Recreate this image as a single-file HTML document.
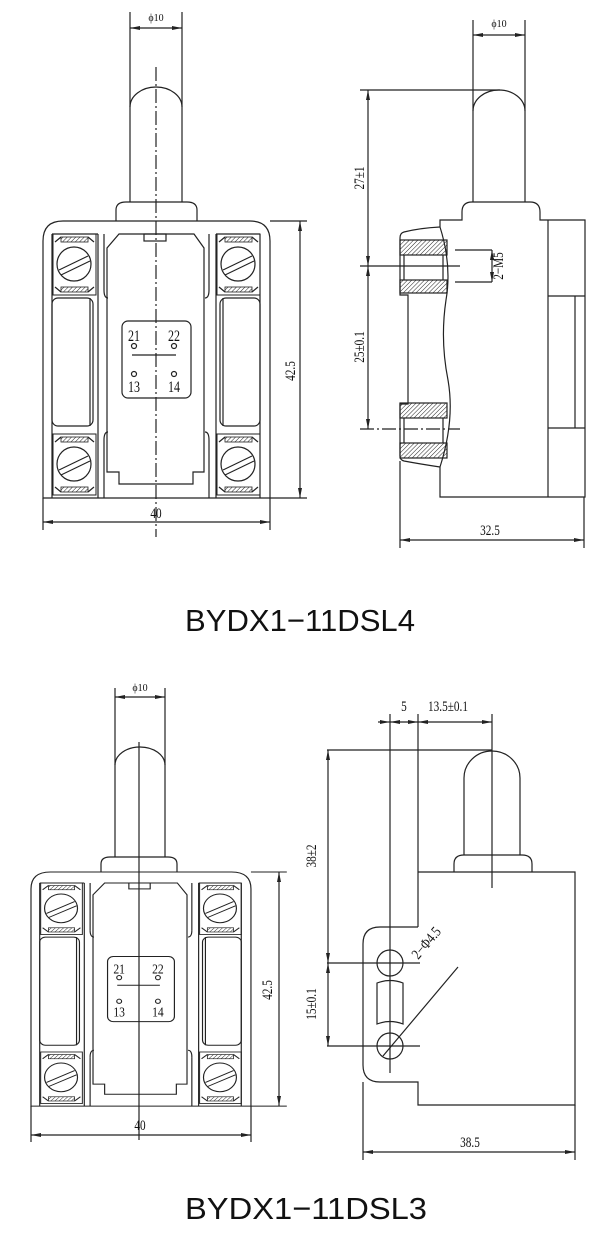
<!DOCTYPE html>
<html><head><meta charset="utf-8">
<style>
html,body{margin:0;padding:0;background:#fff;}
svg{display:block;}
.t{font-family:"Liberation Serif",serif;fill:#111;}
.h{font-family:"Liberation Sans",sans-serif;fill:#111;}
</style></head>
<body>
<svg width="600" height="1249" viewBox="0 0 600 1249" xmlns="http://www.w3.org/2000/svg">
<defs>
<pattern id="hat" width="3" height="3" patternUnits="userSpaceOnUse" patternTransform="rotate(45)">
<line x1="0" y1="0" x2="0" y2="3" stroke="#222" stroke-width="1"/>
</pattern>
<marker id="a" viewBox="0 0 10 4" refX="10" refY="2" markerWidth="10" markerHeight="4" orient="auto-start-reverse" markerUnits="userSpaceOnUse">
<path d="M0,0 L10,2 L0,4 z" fill="#222"/>
</marker>
<g id="term">
<rect x="-21" y="-30" width="43" height="61" fill="none" stroke="#222" stroke-width="1"/>
<rect x="-13" y="-27" width="27" height="5" fill="url(#hat)" stroke="#222" stroke-width="0.8"/>
<rect x="-13" y="23" width="27" height="5" fill="url(#hat)" stroke="#222" stroke-width="0.8"/>
<path d="M-19,-22 L-13,-27 M14,-27 L20,-22 M-19,23 L-13,28 M14,28 L20,23" stroke="#222" fill="none"/>
<circle r="17" fill="none" stroke="#222" stroke-width="1.2"/>
<line x1="-15" y1="6" x2="14" y2="-8" stroke="#222" stroke-width="1.1"/>
<line x1="-13" y1="11" x2="16" y2="-3" stroke="#222" stroke-width="1.1"/>
</g>
</defs>
<g stroke="#222" stroke-width="1.2" fill="none">

<!-- ===== TOP FRONT VIEW ===== -->
<line x1="130" y1="12" x2="130" y2="107"/><line x1="182" y1="12" x2="182" y2="107"/>
<line x1="130" y1="28" x2="182" y2="28" marker-start="url(#a)" marker-end="url(#a)"/>
<path d="M130,202 L130,107 A26,20 0 0 1 182,107 L182,202"/>
<path d="M116,221 L116,210 Q116,202 126,202 L187,202 Q197,202 197,210 L197,221"/>
<line x1="156" y1="67" x2="156" y2="537" stroke-dasharray="14,3,2,3"/>
<g id="fbody">
<path d="M43,498 L43,241 Q43,221 63,221 L250,221 Q270,221 270,241 L270,498 Z"/>
<line x1="270" y1="221" x2="307" y2="221"/>
<line x1="270" y1="498" x2="307" y2="498"/>
<line x1="52" y1="234" x2="52" y2="498"/><line x1="260" y1="234" x2="260" y2="498"/>
<line x1="52" y1="234" x2="98" y2="234"/><line x1="216" y1="234" x2="260" y2="234"/>
<line x1="98" y1="234" x2="98" y2="498"/><line x1="216" y1="234" x2="216" y2="498"/>
<line x1="104" y1="234" x2="104" y2="290"/><line x1="209" y1="234" x2="209" y2="290"/>
<line x1="104" y1="440" x2="104" y2="498"/><line x1="209" y1="440" x2="209" y2="498"/>
<path d="M104,290 Q104,298 108,298 M209,290 Q209,298 205,298"/>
<path d="M104,440 Q104,432 108,432 M209,440 Q209,432 205,432"/>
<rect x="52" y="298" width="41" height="128" rx="6"/>
<line x1="90" y1="298" x2="90" y2="426"/>
<rect x="220" y="298" width="40" height="128" rx="6"/>
<line x1="223" y1="298" x2="223" y2="426"/>
<path d="M107,472 L107,248 L119,234 L194,234 L204,248 L204,472 L193,472 L193,484 L119,484 L119,472 Z"/>
<rect x="144" y="234" width="22" height="7"/>
<use href="#term" x="74" y="264"/><use href="#term" x="238" y="264"/>
<use href="#term" x="74" y="464"/><use href="#term" x="238" y="464"/>
<rect x="122" y="321" width="69" height="77" rx="6"/>
<circle cx="134" cy="346" r="2.5"/><circle cx="174" cy="346" r="2.5"/>
<line x1="132" y1="355" x2="176" y2="355"/>
<circle cx="134" cy="374" r="2.5"/><circle cx="174" cy="374" r="2.5"/>
<text class="t" x="134" y="341" font-size="16" text-anchor="middle" stroke="none" fill="#111" transform="translate(134,341) scale(0.75,1) translate(-134,-341)">21</text>
<text class="t" x="174" y="341" font-size="16" text-anchor="middle" stroke="none" fill="#111" transform="translate(174,341) scale(0.75,1) translate(-174,-341)">22</text>
<text class="t" x="134" y="392" font-size="16" text-anchor="middle" stroke="none" fill="#111" transform="translate(134,392) scale(0.75,1) translate(-134,-392)">13</text>
<text class="t" x="174" y="392" font-size="16" text-anchor="middle" stroke="none" fill="#111" transform="translate(174,392) scale(0.75,1) translate(-174,-392)">14</text>
</g>
<line x1="300" y1="221" x2="300" y2="498" marker-start="url(#a)" marker-end="url(#a)"/>
<line x1="43" y1="498" x2="43" y2="530"/><line x1="270" y1="498" x2="270" y2="530"/>
<line x1="43" y1="522" x2="270" y2="522" marker-start="url(#a)" marker-end="url(#a)"/>

<!-- ===== TOP SIDE VIEW ===== -->
<line x1="473" y1="20" x2="473" y2="111"/><line x1="525" y1="20" x2="525" y2="111"/>
<line x1="473" y1="35" x2="525" y2="35" marker-start="url(#a)" marker-end="url(#a)"/>
<path d="M473,202 L473,111 A26,21 0 0 1 525,111 L525,202"/>
<line x1="360" y1="90" x2="500" y2="90"/>
<path d="M440,227 L440,220 L462,220 L462,212 Q462,202 472,202 L530,202 Q540,202 540,212 L540,220 L548,220"/>
<path d="M548,220 L585,220 L585,497 L440,497 L440,467"/>
<line x1="548" y1="220" x2="548" y2="497"/>
<line x1="548" y1="296" x2="585" y2="296"/><line x1="548" y1="428" x2="585" y2="428"/>
<line x1="575" y1="296" x2="575" y2="428"/>
<path d="M440,227 Q420,228 404,232 Q400,233 400,238 L400,295 L408,295 L408,404 L400,404 L400,456 Q400,460 404,461 Q420,464 440,467"/>
<path d="M440,227 Q452,265 446,300 Q440,340 448,380 Q455,420 440,467"/>
<rect x="400" y="240" width="47" height="15" fill="url(#hat)"/>
<rect x="400" y="280" width="47" height="13" fill="url(#hat)"/>
<rect x="400" y="403" width="47" height="15" fill="url(#hat)"/>
<rect x="400" y="443" width="47" height="15" fill="url(#hat)"/>
<line x1="404" y1="255" x2="404" y2="280"/><line x1="443" y1="255" x2="443" y2="280"/>
<line x1="404" y1="418" x2="404" y2="443"/><line x1="443" y1="418" x2="443" y2="443"/>
<line x1="360" y1="266" x2="460" y2="266"/>
<line x1="360" y1="429" x2="460" y2="429" stroke-dasharray="14,3,2,3"/>
<line x1="368" y1="90" x2="368" y2="266" marker-start="url(#a)" marker-end="url(#a)"/>
<line x1="368" y1="266" x2="368" y2="429" marker-start="url(#a)" marker-end="url(#a)"/>
<line x1="455" y1="250" x2="492" y2="250"/><line x1="455" y1="282" x2="492" y2="282"/>
<line x1="492" y1="250" x2="492" y2="282" marker-start="url(#a)" marker-end="url(#a)"/>
<line x1="400" y1="461" x2="400" y2="548"/><line x1="584" y1="497" x2="584" y2="548"/>
<line x1="400" y1="540" x2="584" y2="540" marker-start="url(#a)" marker-end="url(#a)"/>

<!-- ===== BOTTOM FRONT VIEW ===== -->
<line x1="115" y1="688" x2="115" y2="765"/><line x1="165" y1="688" x2="165" y2="765"/>
<line x1="115" y1="697" x2="165" y2="697" marker-start="url(#a)" marker-end="url(#a)"/>
<path d="M115,857 L115,765 A25,18 0 0 1 165,765 L165,857"/>
<path d="M101,872 L101,864 Q101,857 110,857 L168,857 Q177,857 177,864 L177,872"/>
<line x1="139" y1="742" x2="139" y2="1140"/>
<use href="#fbody" transform="matrix(0.969,0,0,0.845,-10.67,685.26)"/>
<line x1="279" y1="872" x2="279" y2="1106" marker-start="url(#a)" marker-end="url(#a)"/>
<line x1="31" y1="1106" x2="31" y2="1142"/><line x1="251" y1="1106" x2="251" y2="1142"/>
<line x1="31" y1="1135" x2="251" y2="1135" marker-start="url(#a)" marker-end="url(#a)"/>

<!-- ===== BOTTOM SIDE VIEW ===== -->
<line x1="390" y1="714" x2="390" y2="1073"/>
<line x1="418" y1="714" x2="418" y2="927"/>
<line x1="492" y1="714" x2="492" y2="888"/>
<line x1="378" y1="722" x2="390" y2="722" marker-end="url(#a)"/>
<line x1="390" y1="722" x2="418" y2="722" marker-start="url(#a)" marker-end="url(#a)"/>
<line x1="418" y1="722" x2="492" y2="722" marker-start="url(#a)" marker-end="url(#a)"/>
<line x1="327" y1="750" x2="492" y2="750"/>
<path d="M464,855 L464,778 A28,27 0 0 1 520,778 L520,855"/>
<path d="M454,872 L454,864 Q454,855 464,855 L522,855 Q532,855 532,864 L532,872"/>
<path d="M418,872 L575,872 L575,1105 L418,1105 L418,1082 L380,1082 Q363,1082 363,1065 L363,944 Q363,927 380,927 L418,927"/>
<circle cx="390" cy="963" r="13"/><circle cx="390" cy="1046" r="13"/>
<line x1="327" y1="963" x2="420" y2="963"/><line x1="327" y1="1046" x2="420" y2="1046"/>
<path d="M377,983 Q390,978 403,983 L403,1024 Q390,1019 377,1024 Z"/>
<line x1="383" y1="1056" x2="458" y2="967"/>
<line x1="328" y1="750" x2="328" y2="963" marker-start="url(#a)" marker-end="url(#a)"/>
<line x1="328" y1="963" x2="328" y2="1046" marker-start="url(#a)" marker-end="url(#a)"/>
<line x1="363" y1="1082" x2="363" y2="1160"/><line x1="575" y1="1105" x2="575" y2="1160"/>
<line x1="363" y1="1152" x2="575" y2="1152" marker-start="url(#a)" marker-end="url(#a)"/>
</g>

<!-- ===== TEXT ===== -->
<g class="t" font-size="15">
<text x="156" y="21" font-size="10" text-anchor="middle">ϕ10</text>
<text x="156" y="518" text-anchor="middle" transform="translate(156,518) scale(0.75,1) translate(-156,-518)">40</text>
<text transform="translate(295,371) rotate(-90) scale(0.75,1)" text-anchor="middle">42.5</text>
<text x="499" y="27" font-size="10" text-anchor="middle">ϕ10</text>
<text transform="translate(364,178) rotate(-90) scale(0.75,1)" text-anchor="middle">27±1</text>
<text transform="translate(364,347) rotate(-90) scale(0.75,1)" text-anchor="middle">25±0.1</text>
<text transform="translate(503,266) rotate(-90) scale(0.75,1)" text-anchor="middle">2−M5</text>
<text x="490" y="535" text-anchor="middle" transform="translate(490,535) scale(0.75,1) translate(-490,-535)">32.5</text>

<text x="140" y="691" font-size="10" text-anchor="middle">ϕ10</text>
<text x="140" y="1130" text-anchor="middle" transform="translate(140,1130) scale(0.75,1) translate(-140,-1130)">40</text>
<text transform="translate(272,990) rotate(-90) scale(0.75,1)" text-anchor="middle">42.5</text>
<text x="404" y="711" text-anchor="middle" transform="translate(404,711) scale(0.75,1) translate(-404,-711)">5</text>
<text x="448" y="711" text-anchor="middle" transform="translate(448,711) scale(0.75,1) translate(-448,-711)">13.5±0.1</text>
<text transform="translate(316,856) rotate(-90) scale(0.75,1)" text-anchor="middle">38±2</text>
<text transform="translate(316,1004) rotate(-90) scale(0.75,1)" text-anchor="middle">15±0.1</text>
<text transform="translate(430,946) rotate(-50) scale(0.8,1)" text-anchor="middle">2−Φ4.5</text>
<text x="470" y="1147" text-anchor="middle" transform="translate(470,1147) scale(0.75,1) translate(-470,-1147)">38.5</text>
</g>
<text class="h" x="185" y="631" font-size="31" textLength="230" lengthAdjust="spacingAndGlyphs">BYDX1−11DSL4</text>
<text class="h" x="185" y="1219" font-size="31" textLength="242" lengthAdjust="spacingAndGlyphs">BYDX1−11DSL3</text>
</svg>
</body></html>
